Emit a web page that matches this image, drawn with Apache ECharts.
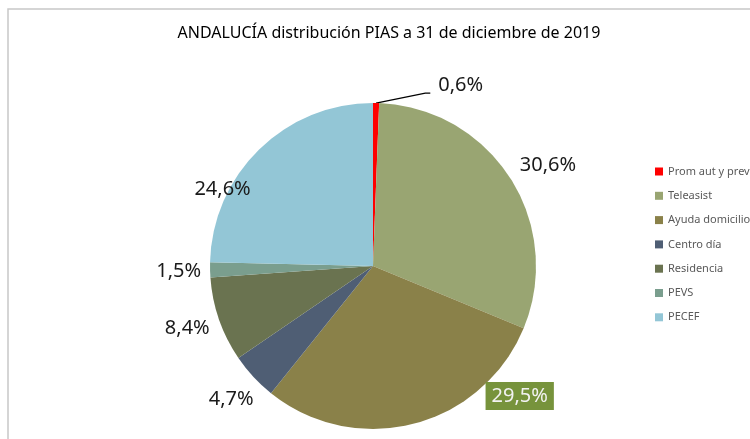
<!DOCTYPE html>
<html>
<head>
<meta charset="utf-8">
<script src="https://cdn.jsdelivr.net/npm/echarts@6/dist/echarts.min.js"></script>
<style>
  html, body { margin: 0; padding: 0; background: #fff; }
  #canvas { width: 750px; height: 439px; }
</style>
</head>
<body>
<div id="canvas"></div>
<script>
var categories = ['Prom aut y prev', 'Teleasist', 'Ayuda domicilio', 'Centro día', 'Residencia', 'PEVS', 'PECEF'];
var values = [0.6, 30.6, 29.5, 4.7, 8.4, 1.5, 24.6];
var colors = ['#FF0000', '#99A572', '#8A8149', '#4F5E74', '#6A7350', '#7A9E8E', '#93C6D6'];

// nudges so the labels sit where the original places them
var labelNudge = [[3, -6], [-7, -4], [56, -28], [22, 14], [15, 5], [16, 1], [13, 48]];

var myChart = echarts.init(document.getElementById('canvas'));

var pieData = categories.map(function (name, i) {
    var item = { name: name, value: values[i], itemStyle: { color: colors[i] } };
    if (i === 0) {
        item.labelLine = { show: true, length: 12, length2: 54, lineStyle: { color: '#000', width: 1.3 } };
    }
    if (name === 'Ayuda domicilio') {
        item.label = { backgroundColor: '#77933C', color: '#F2F2F2', padding: [5, 6, 3, 6] };
    }
    return item;
});

option = {
    animation: false,
    title: {
        text: 'ANDALUCÍA distribución PIAS a 31 de diciembre de 2019',
        left: 384,
        top: 20,
        textAlign: 'center',
        textStyle: {
            fontFamily: 'Noto Sans',
            fontSize: 16,
            fontWeight: 'normal',
            color: '#000'
        }
    },
    graphic: [{
        type: 'rect',
        shape: { x: 8, y: 9, width: 760, height: 440 },
        style: { fill: 'none', stroke: '#C8C8C8', lineWidth: 1.5 },
        silent: true
    }],
    legend: {
        orient: 'vertical',
        left: 650,
        top: 161,
        itemWidth: 8,
        itemHeight: 8,
        itemGap: 13.3,
        icon: 'rect',
        textStyle: { fontFamily: 'Noto Sans', fontSize: 11, color: '#595959' },
        data: categories
    },
    series: [{
        type: 'pie',
        center: [373, 266],
        radius: 163,
        startAngle: 90,
        clockwise: true,
        data: pieData,
        label: {
            show: true,
            position: 'outside',
            fontFamily: 'Noto Sans',
            fontSize: 20,
            color: '#1a1a1a',
            formatter: function (p) {
                return p.value.toFixed(1).replace('.', ',') + '%';
            }
        },
        labelLine: { show: false, length: 12, length2: 8 },
        labelLayout: function (params) {
            var n = labelNudge[params.dataIndex];
            var res = { dx: n[0], dy: n[1] };
            var pts = params.labelLinePoints;
            if (params.dataIndex === 0 && pts && pts.length === 3) {
                // straight slanted leader, short flat tail like the original
                res.labelLinePoints = [pts[0], [pts[2][0] - 5, pts[2][1] + 2], [pts[2][0], pts[2][1] + 2]];
            }
            return res;
        },
        itemStyle: { borderWidth: 0 }
    }]
};
myChart.setOption(option);
</script>
</body>
</html>
